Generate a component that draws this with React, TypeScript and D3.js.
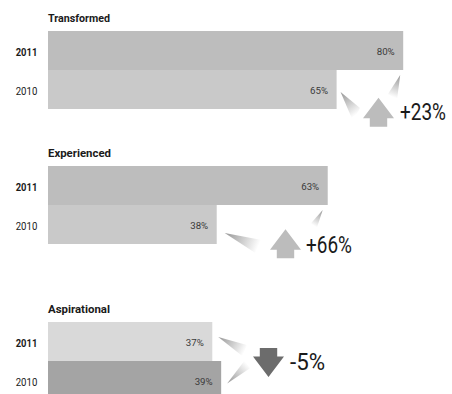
import React, { useLayoutEffect, useRef, useState } from "react";
import * as d3 from "d3";

const groups = ["Transformed", "Experienced", "Aspirational"];
const years = ["2011", "2010"];
const values2011 = [80, 63, 37];
const values2010 = [65, 38, 39];
const changeLabels = ["+23%", "+66%", "-5%"];
const changeDirections = ["up", "up", "down"];

// layout
const W = 452;
const H = 394;
const groupTops = [31, 166, 322];
const rowH = 39;
const barColors = [
  ["#bdbdbd", "#c9c9c9"],
  ["#bdbdbd", "#c9c9c9"],
  ["#d9d9d9", "#a4a4a4"],
];
const arrowColors = ["#bcbcbc", "#bcbcbc", "#6c6c6c"];
// arrow anchor: center x, tip y (for down arrow: top of shaft y)
const arrowAnchors = [
  { cx: 378.5, y: 97.7 },
  { cx: 285.5, y: 229.3 },
  { cx: 268.5, y: 348 },
];
const changeTextPos = [
  { x: 400, y: 120 },
  { x: 306, y: 253 },
  { x: 290, y: 370 },
];
const changeTextLen = [46, 46, 35];
// wedges: tip offset from bar end (dx, dy rel. to bar top) and far points
const wedges = [
  [
    { row: 0, dx: -3, dy: 44, far: [[388, 94], [397, 100]] },
    { row: 1, dx: 4, dy: 22, far: [[360, 108], [353, 121]] },
  ],
  [
    { row: 0, dx: -5, dy: 44, far: [[311, 223.3], [316.7, 228.3]] },
    { row: 1, dx: 8, dy: 28, far: [[261.7, 240], [255, 252.7]] },
  ],
  [
    { row: 0, dx: 6, dy: 15, far: [[246.7, 345], [243.3, 356.7]] },
    { row: 1, dx: 6, dy: 22.5, far: [[245, 360], [250, 368.3]] },
  ],
];

const FONT = "Roboto, 'Liberation Sans', sans-serif";

function FittedText(props: {
  x: number;
  y: number;
  width: number;
  fontSize: number;
  fontWeight?: any;
  fill: string;
  children: string;
}) {
  const ref = useRef<SVGTextElement>(null);
  const [sx, setSx] = useState(0.8);
  useLayoutEffect(() => {
    if (ref.current) {
      const w = ref.current.getComputedTextLength();
      if (w > 0) setSx(props.width / w);
    }
  }, [props.width, props.children]);
  return (
    <text
      ref={ref}
      transform={`translate(${props.x},${props.y}) scale(${sx},1)`}
      fontSize={props.fontSize}
      fontWeight={props.fontWeight}
      fill={props.fill}
    >
      {props.children}
    </text>
  );
}

export default function App() {
  const x = d3.scaleLinear().domain([0, 100]).range([48, 48 + 444]);
  const rows = (gi: number) => [values2011[gi], values2010[gi]];

  const arrowPath = (cx: number, y: number, dir: string) => {
    const hw = 15.5, sw = 8.7, hh = 20.5, total = 29;
    const p = d3.path();
    if (dir === "up") {
      p.moveTo(cx, y);
      p.lineTo(cx + hw, y + hh);
      p.lineTo(cx + sw, y + hh);
      p.lineTo(cx + sw, y + total);
      p.lineTo(cx - sw, y + total);
      p.lineTo(cx - sw, y + hh);
      p.lineTo(cx - hw, y + hh);
      p.closePath();
      return p.toString();
    }
    const tip = y + total;
    p.moveTo(cx - sw, y);
    p.lineTo(cx + sw, y);
    p.lineTo(cx + sw, tip - hh);
    p.lineTo(cx + hw, tip - hh);
    p.lineTo(cx, tip);
    p.lineTo(cx - hw, tip - hh);
    p.lineTo(cx - sw, tip - hh);
    p.closePath();
    return p.toString();
  };

  return (
    <svg
      width={W}
      height={H}
      style={{ position: "absolute", left: 0, top: 0, background: "#fff" }}
      fontFamily={FONT}
    >
      <defs>
        {groups.map((g, gi) =>
          wedges[gi].map((w, wi) => {
            const top = groupTops[gi] + w.row * rowH;
            const tx = x(rows(gi)[w.row]) + w.dx;
            const ty = top + w.dy;
            const fx = (w.far[0][0] + w.far[1][0]) / 2;
            const fy = (w.far[0][1] + w.far[1][1]) / 2;
            return (
              <linearGradient
                key={`g${gi}${wi}`}
                id={`wg${gi}${wi}`}
                gradientUnits="userSpaceOnUse"
                x1={tx}
                y1={ty}
                x2={fx}
                y2={fy}
              >
                <stop offset="0" stopColor="#959595" />
                <stop offset="1" stopColor="#ffffff" />
              </linearGradient>
            );
          })
        )}
      </defs>
      {groups.map((g, gi) => {
        const top = groupTops[gi];
        return (
          <g key={g}>
            <text
              x={48}
              y={top - 9.5}
              fontSize={10.5}
              fontWeight="bold"
              fill="#1a1a1a"
              textLength={[62, 63, 62][gi]}
              lengthAdjust="spacingAndGlyphs"
            >
              {g}
            </text>
            {rows(gi).map((v, ri) => {
              const y = top + ri * rowH;
              return (
                <g key={ri}>
                  <rect
                    x={x(0)}
                    y={y}
                    width={x(v) - x(0)}
                    height={rowH}
                    fill={barColors[gi][ri]}
                  />
                  <text
                    x={15.7}
                    y={y + rowH / 2 + 5}
                    fontSize={11.5}
                    fontWeight={ri === 0 ? "bold" : "normal"}
                    fill="#1a1a1a"
                    textLength={21.6}
                    lengthAdjust="spacingAndGlyphs"
                  >
                    {years[ri]}
                  </text>
                  <text
                    x={x(v) - 8.5}
                    y={y + rowH / 2 + 4}
                    fontSize={8.5}
                    textAnchor="end"
                    fill="#3a3a3a"
                    textLength={18}
                    lengthAdjust="spacingAndGlyphs"
                  >
                    {v}%
                  </text>
                </g>
              );
            })}
            {wedges[gi].map((w, wi) => {
              const wy = top + w.row * rowH;
              const tx = x(rows(gi)[w.row]) + w.dx;
              const ty = wy + w.dy;
              const p = d3.path();
              p.moveTo(tx, ty);
              p.lineTo(w.far[0][0], w.far[0][1]);
              p.lineTo(w.far[1][0], w.far[1][1]);
              p.closePath();
              return <path key={wi} d={p.toString()} fill={`url(#wg${gi}${wi})`} />;
            })}
            <path
              d={arrowPath(arrowAnchors[gi].cx, arrowAnchors[gi].y, changeDirections[gi])}
              fill={arrowColors[gi]}
            />
            <FittedText
              x={changeTextPos[gi].x}
              y={changeTextPos[gi].y}
              width={changeTextLen[gi]}
              fontSize={24}
              fontWeight={400}
              fill="#1a1a1a"
            >
              {changeLabels[gi]}
            </FittedText>
          </g>
        );
      })}
    </svg>
  );
}
